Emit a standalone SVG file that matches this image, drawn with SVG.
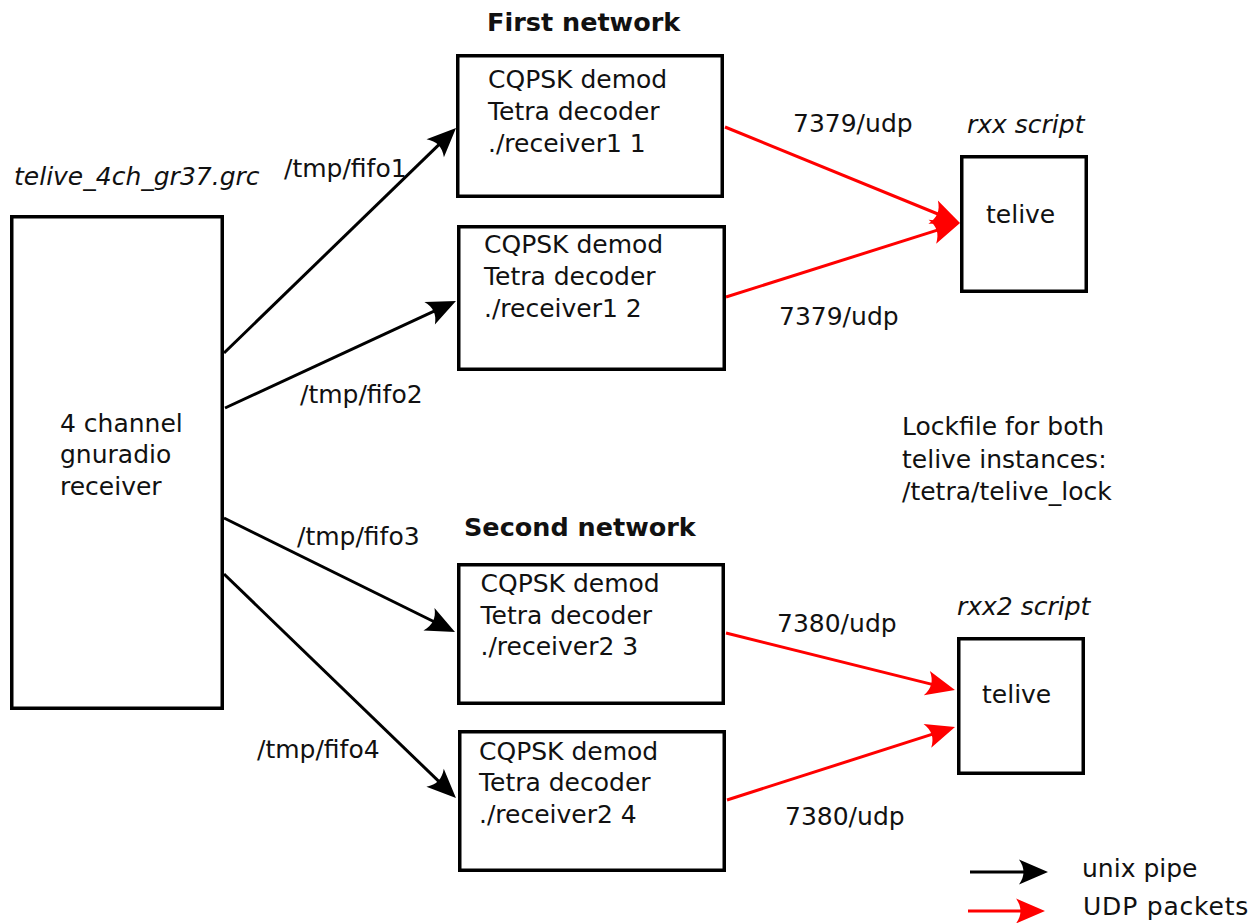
<svg xmlns="http://www.w3.org/2000/svg" width="1254" height="923" viewBox="0 0 1254 923">
<style>
text { font-family: "DejaVu Sans", "Liberation Sans", sans-serif; font-size: 25px; fill: #111; }
.it { font-style: italic; }
.bold { font-weight: bold; font-size: 25.5px; }
.box { fill: #fff; stroke: #000; stroke-width: 3.5; }
.pipe { stroke: #000; stroke-width: 3; fill: none; marker-end: url(#ahBlack); }
.udp { stroke: #ff0000; stroke-width: 3; fill: none; marker-end: url(#ahRed); }
</style>
<defs>
<marker id="ahBlack" markerUnits="userSpaceOnUse" viewBox="-25 -15 40 30" markerWidth="40" markerHeight="30" refX="0" refY="0" orient="auto" overflow="visible">
<path d="M8,0 L-21,-12.5 C-15,-4 -15,4 -21,12.5 Z" fill="#000"/>
</marker>
<marker id="ahRed" markerUnits="userSpaceOnUse" viewBox="-25 -15 40 30" markerWidth="40" markerHeight="30" refX="0" refY="0" orient="auto" overflow="visible">
<path d="M8,0 L-21,-12.5 C-15,-4 -15,4 -21,12.5 Z" fill="#ff0000"/>
</marker>
</defs>
<rect width="1254" height="923" fill="#fff"/>

<g id="connectors">
<line class="pipe" x1="224" y1="353" x2="450.3" y2="133.6"/>
<line class="pipe" x1="225" y1="408" x2="448.7" y2="304.4"/>
<line class="pipe" x1="224" y1="518" x2="447.8" y2="628.5"/>
<line class="pipe" x1="224" y1="574" x2="450.2" y2="792.4"/>
<line class="udp" x1="725" y1="127" x2="952.6" y2="220"/>
<line class="udp" x1="726" y1="297" x2="952.4" y2="225.4"/>
<line class="udp" x1="726" y1="633" x2="947.2" y2="688.1"/>
<line class="udp" x1="727" y1="800" x2="947.4" y2="729.4"/>
<text x="284" y="177">/tmp/fifo1</text>
<text x="300" y="403">/tmp/fifo2</text>
<text x="297" y="545">/tmp/fifo3</text>
<text x="257" y="758">/tmp/fifo4</text>
<text x="793" y="132">7379/udp</text>
<text x="779" y="325">7379/udp</text>
<text x="777" y="632">7380/udp</text>
<text x="785" y="825">7380/udp</text>
</g>

<g id="receiver">
<text class="it" x="14" y="185">telive_4ch_gr37.grc</text>
<rect class="box" x="11.75" y="216.75" width="210.5" height="491.5"/>
<text x="60" y="432">4 channel</text>
<text x="60" y="463">gnuradio</text>
<text x="60" y="495">receiver</text>
</g>

<g id="first-network-title">
<text class="bold" x="487" y="31">First network</text>
</g>

<g id="decoder1">
<rect class="box" x="457.75" y="55.75" width="264.5" height="140.5"/>
<text x="488" y="88">CQPSK demod</text>
<text x="488" y="120">Tetra decoder</text>
<text x="488" y="152">./receiver1 1</text>
</g>

<g id="decoder2">
<rect class="box" x="458.75" y="226.75" width="265.5" height="142.5"/>
<text x="484" y="253">CQPSK demod</text>
<text x="484" y="285">Tetra decoder</text>
<text x="484" y="317">./receiver1 2</text>
</g>

<g id="second-network-title">
<text class="bold" x="464" y="536">Second network</text>
</g>

<g id="decoder3">
<rect class="box" x="458.75" y="564.75" width="264.5" height="138.5"/>
<text x="480.5" y="592">CQPSK demod</text>
<text x="480.5" y="624">Tetra decoder</text>
<text x="480.5" y="655">./receiver2 3</text>
</g>

<g id="decoder4">
<rect class="box" x="459.75" y="731.75" width="264.5" height="138.5"/>
<text x="479" y="760">CQPSK demod</text>
<text x="479" y="791">Tetra decoder</text>
<text x="479" y="823">./receiver2 4</text>
</g>

<g id="telive1">
<text class="it" x="967" y="133">rxx script</text>
<rect class="box" x="961.75" y="156.75" width="124.5" height="134.5"/>
<text x="986" y="223">telive</text>
</g>

<g id="telive2">
<text class="it" x="957" y="615">rxx2 script</text>
<rect class="box" x="958.75" y="638.75" width="124.5" height="134.5"/>
<text x="982" y="703">telive</text>
</g>

<g id="lockfile-note">
<text x="902" y="435">Lockfile for both</text>
<text x="902" y="468">telive instances:</text>
<text x="902" y="500">/tetra/telive_lock</text>
</g>

<g id="legend">
<line class="pipe" x1="970" y1="872" x2="1040" y2="872"/>
<line class="udp" x1="968" y1="911" x2="1037" y2="911"/>
<text x="1082" y="877">unix pipe</text>
<text x="1083" y="915" letter-spacing="0.8">UDP packets</text>
</g>
</svg>
